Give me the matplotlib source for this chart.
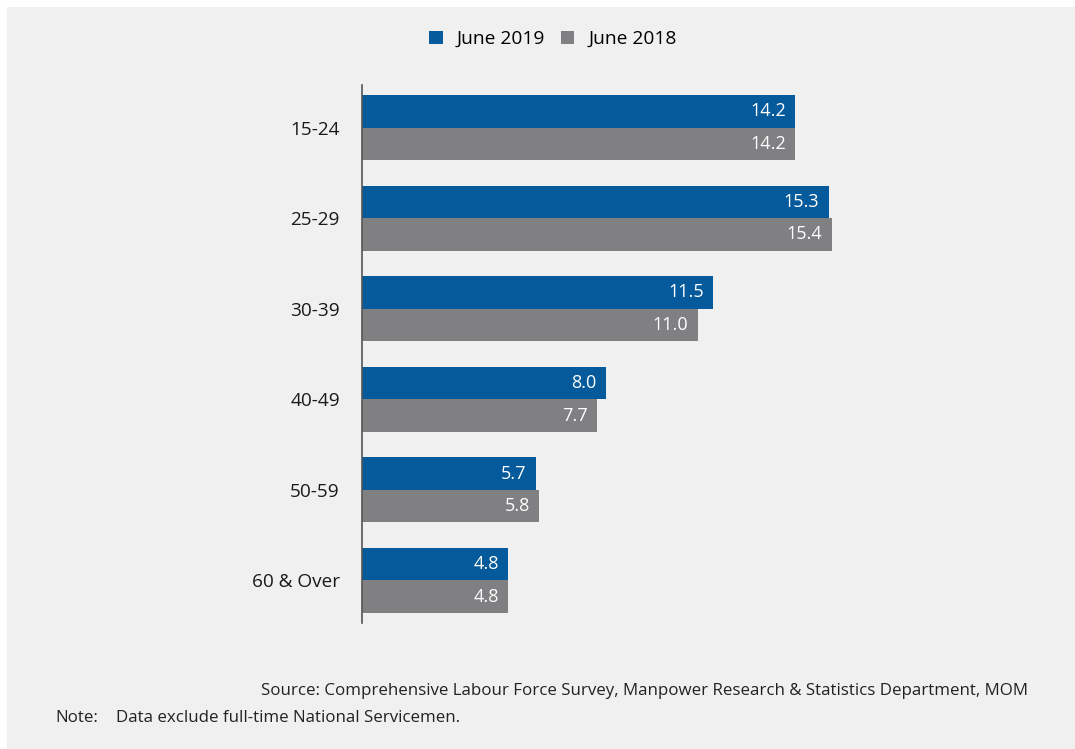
import matplotlib
matplotlib.use("Agg")
import matplotlib.pyplot as plt
from matplotlib.patches import Rectangle
import numpy as np

plt.rcParams['font.family'] = ['Open Sans', 'DejaVu Sans']

age_groups = ["15-24", "25-29", "30-39", "40-49", "50-59", "60 & Over"]
june_2019 = [14.2, 15.3, 11.5, 8.0, 5.7, 4.8]
june_2018 = [14.2, 15.4, 11.0, 7.7, 5.8, 4.8]

blue = "#045a9a"
grey = "#808083"
panel = "#f0f0f0"

W, H = 1075, 749
fig = plt.figure(figsize=(W / 100, H / 100), dpi=100)
fig.patch.set_facecolor("white")
fig.patches.append(Rectangle((7 / W, 0), 1 - 7 / W, 1 - 7 / H,
                             transform=fig.transFigure, facecolor=panel,
                             edgecolor="none", zorder=-10))

ax = fig.add_axes([362 / W, 1 - 623 / H, 600 / W, 538 / H])
ax.set_facecolor("none")

y = np.arange(len(age_groups))
h = 0.36
b1 = ax.barh(y - h / 2, june_2019, height=h, color=blue, label="June 2019")
b2 = ax.barh(y + h / 2, june_2018, height=h, color=grey, label="June 2018")

for bars, vals in ((b1, june_2019), (b2, june_2018)):
    for bar, v in zip(bars, vals):
        ax.text(v - 0.3, bar.get_y() + bar.get_height() / 2, f"{v:.1f}",
                ha="right", va="center", color="white", fontsize=13)

ax.set_xlim(0, 600 / 30.5)
ax.set_ylim(5.47, -0.47)
ax.set_yticks(y)
ax.set_yticklabels(age_groups, fontsize=13.7, color="#1a1a1a")
ax.tick_params(axis="y", length=0, pad=16)
ax.set_xticks([])
for s in ("top", "right", "bottom"):
    ax.spines[s].set_visible(False)
ax.spines["left"].set_color("#555555")
ax.spines["left"].set_linewidth(1.2)

fig.legend(handles=[b1, b2], labels=["June 2019", "June 2018"], loc="center",
           bbox_to_anchor=(553 / W, 1 - 39 / H), ncol=2, frameon=False,
           fontsize=13.8, handlelength=0.7, handleheight=0.7,
           handletextpad=0.75, columnspacing=0.8)

fig.text(1028 / W, 1 - 691 / H,
         "Source: Comprehensive Labour Force Survey, Manpower Research & Statistics Department, MOM",
         ha="right", va="center", fontsize=12.2, color="#222222")
fig.text(55 / W, 1 - 718 / H, "Note:", ha="left", va="center",
         fontsize=12.2, color="#222222")
fig.text(116 / W, 1 - 718 / H, "Data exclude full-time National Servicemen.",
         ha="left", va="center", fontsize=12.2, color="#222222")

fig.savefig("out.png", dpi=100)
